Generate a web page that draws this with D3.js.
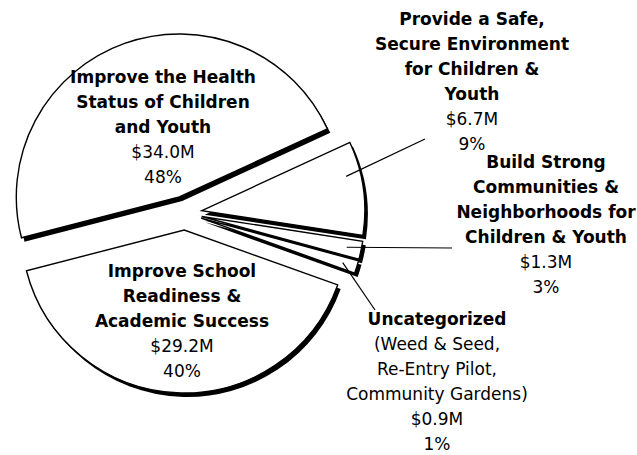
<!DOCTYPE html>
<html>
<head>
<meta charset="utf-8">
<script src="https://cdn.jsdelivr.net/npm/d3@7"></script>
<style>
  body { margin: 0; background: #fff; }
  text { font-family: "DejaVu Sans", Verdana, sans-serif; font-size: 17px; fill: #000; }
</style>
</head>
<body>
<div id="chart-container"></div>
<script>
// data
const categories = [
  ['Improve the Health', 'Status of Children', 'and Youth'],
  ['Provide a Safe,', 'Secure Environment', 'for Children &', 'Youth'],
  ['Build Strong', 'Communities &', 'Neighborhoods for', 'Children & Youth'],
  ['Uncategorized'],
  ['Improve School', 'Readiness &', 'Academic Success']
]
const subLines = [[], [], [], ['(Weed & Seed,', 'Re-Entry Pilot,', 'Community Gardens)'], []]
const amounts = [34.0, 6.7, 1.3, 0.9, 29.2]
const amountLabels = ['$34.0M', '$6.7M', '$1.3M', '$0.9M', '$29.2M']
const percentLabels = ['48%', '9%', '3%', '1%', '40%']

// layout: label centre (first line), leader end and where along the slice the leader starts
const labelPos = [
  { x: 163, y: 78, leader: null },
  { x: 472, y: 20, leader: [425, 139], frac: 0.34 },
  { x: 546, y: 163, leader: [452, 248], frac: 0.5 },
  { x: 437, y: 320, leader: [375, 310], frac: 0.5 },
  { x: 182, y: 272, leader: null }
]

function draw () {
  const width = 637
  const height = 455
  const cx = 185
  const cy = 213
  const radius = 163
  const explode = 17
  const shadowX = 3
  const shadowY = 4
  const lineH = 25

  const svg = d3.select('#chart-container')
    .append('svg')
    .attr('width', width)
    .attr('height', height)

  const pie = d3.pie()
    .sort(null)
    .value(d => d)
    .startAngle(-104.5 * Math.PI / 180)
    .endAngle(255.5 * Math.PI / 180)

  const arcs = pie(amounts)
  const arc = d3.arc().innerRadius(0).outerRadius(radius)
  const leaderR = radius * 0.91

  const g = svg.append('g').attr('transform', 'translate(' + cx + ',' + cy + ')')

  const offset = d => {
    const a = (d.startAngle + d.endAngle) / 2
    return [Math.sin(a) * explode, -Math.cos(a) * explode]
  }

  arcs.forEach((d, i) => {
    const [ox, oy] = offset(d)
    const s = g.append('g').attr('transform', 'translate(' + ox + ',' + oy + ')')
    s.append('path')
      .attr('d', arc(d))
      .attr('transform', 'translate(' + shadowX + ',' + shadowY + ')')
      .attr('fill', '#000')
    s.append('path')
      .attr('d', arc(d))
      .attr('fill', '#fff')
      .attr('stroke', '#000')
      .attr('stroke-width', 1.4)
  })

  // leader lines
  arcs.forEach((d, i) => {
    const p = labelPos[i]
    if (!p.leader) return
    const [ox, oy] = offset(d)
    const a = d.startAngle + (d.endAngle - d.startAngle) * p.frac
    svg.append('line')
      .attr('x1', cx + ox + Math.sin(a) * leaderR)
      .attr('y1', cy + oy - Math.cos(a) * leaderR)
      .attr('x2', p.leader[0])
      .attr('y2', p.leader[1])
      .attr('stroke', '#000')
      .attr('stroke-width', 1.2)
  })

  // labels
  categories.forEach((lines, i) => {
    const p = labelPos[i]
    const rows = lines.map(t => ({ t, bold: true }))
      .concat(subLines[i].map(t => ({ t, bold: false })))
      .concat([{ t: amountLabels[i], bold: false }, { t: percentLabels[i], bold: false }])
    const txt = svg.append('text')
      .attr('text-anchor', 'middle')
    rows.forEach((r, j) => {
      txt.append('tspan')
        .attr('x', p.x)
        .attr('y', p.y + j * lineH)
        .attr('dy', '0.32em')
        .attr('font-weight', r.bold ? 'bold' : 'normal')
        .text(r.t)
    })
  })
}
draw()
</script>
</body>
</html>
